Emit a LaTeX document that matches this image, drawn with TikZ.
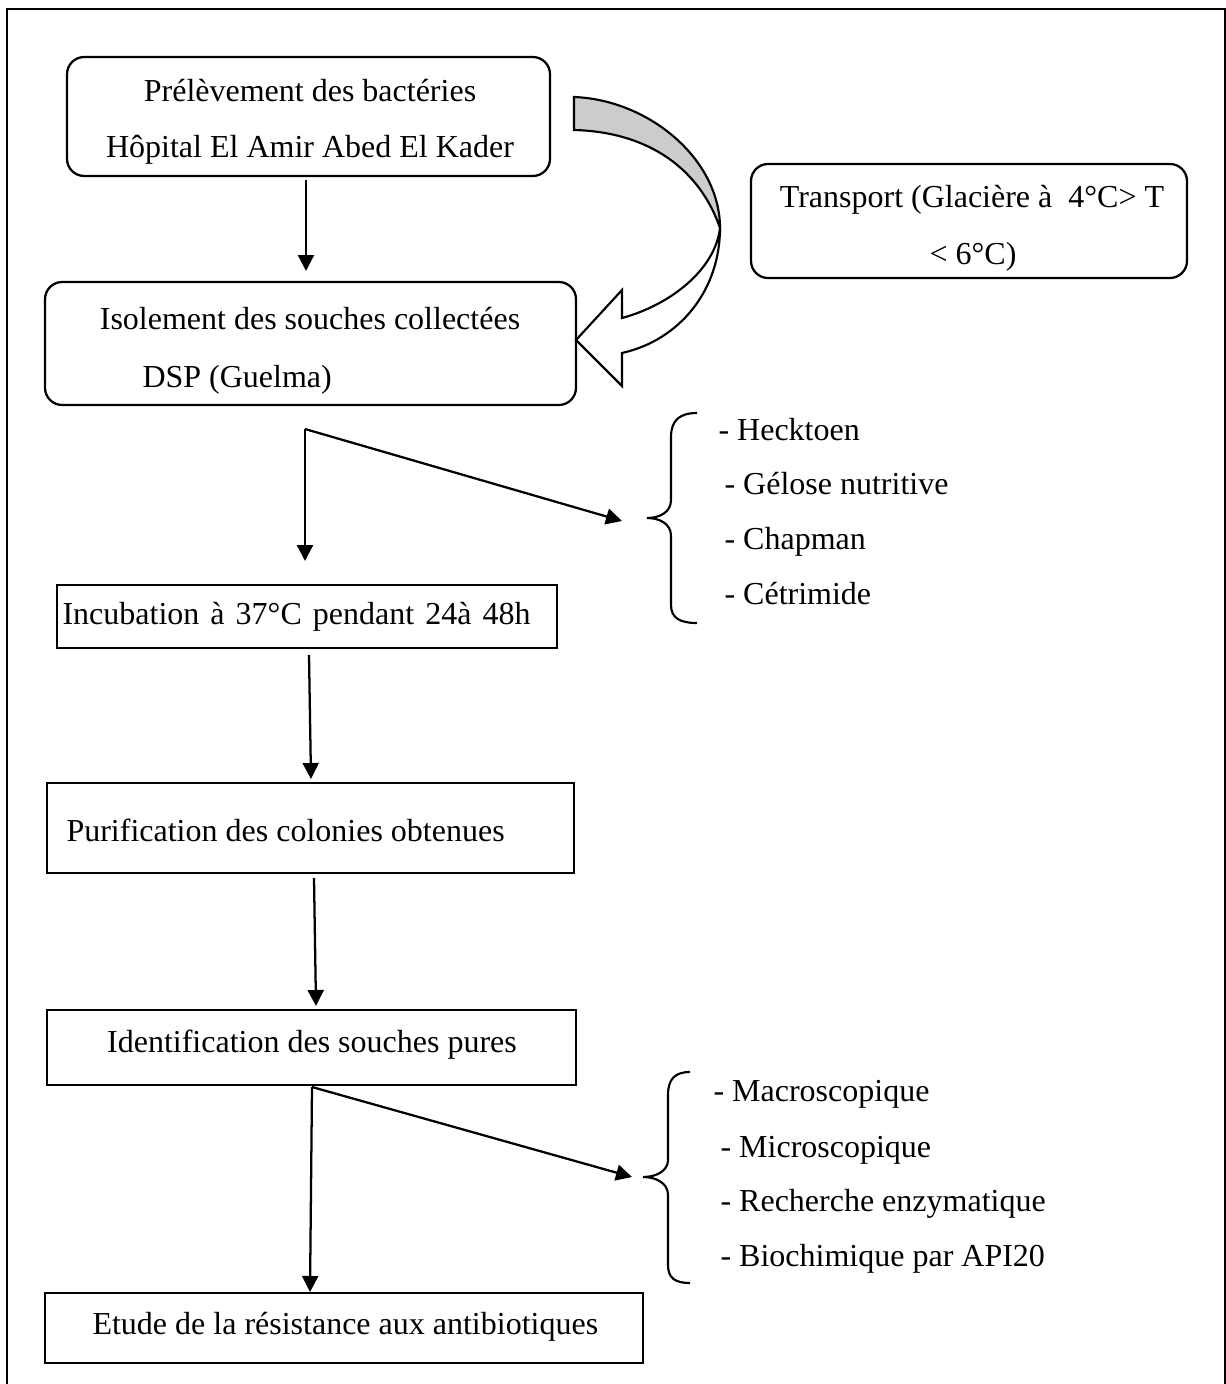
\documentclass[tikz,border=0pt]{standalone}
\usepackage{fontspec}
\setmainfont{Liberation Serif}
\usetikzlibrary{arrows.meta}
\begin{document}
\begin{tikzpicture}[x=0.375pt,y=-0.375pt,
  box/.style={draw, line width=0.85pt, inner sep=0pt, rectangle},
  rbox/.style={box, rounded corners=6.4pt},
  txt/.style={inner sep=0pt, font=\fontsize{12}{14}\selectfont},
  arr/.style={line width=0.85pt, -{Triangle[length=6pt,width=6pt]}},
  band/.style={line width=0.8pt, line join=miter},
  brace/.style={line width=0.8pt},
  frame/.style={line width=1.1pt}]
\useasboundingbox (0,0) rectangle (1226,1384);
\draw[frame] (7,9) rectangle (1225,1420);

% boxes
\node[rbox, minimum width=181.1pt, minimum height=44.6pt] (b1) at (308.5,116.5) {};
\node[rbox, minimum width=199.1pt, minimum height=46.1pt] (b2) at (310.5,343.5) {};
\node[rbox, minimum width=163.5pt, minimum height=42.75pt] (bt) at (969,221) {};
\node[box, minimum width=187.5pt, minimum height=23.6pt] (b3) at (307,616.5) {};
\node[box, minimum width=197.6pt, minimum height=33.75pt] (b4) at (310.5,828) {};
\node[box, minimum width=198.4pt, minimum height=28.1pt] (b5) at (311.5,1047.5) {};
\node[box, minimum width=224.25pt, minimum height=26.25pt] (b6) at (344,1328) {};

% texts
\node[txt, anchor=base] (t1a) at (310,102) {Prélèvement des bactéries};
\node[txt, anchor=base] (t1b) at (310,157) {Hôpital El Amir Abed El Kader};
\node[txt, anchor=base] (t2a) at (310,329) {Isolement des souches collectées};
\node[txt, anchor=base west] (t2b) at (142,387) {DSP (Guelma)};
\node[txt, anchor=base] (tta) at (972,207) {Transport (Glacière à\ \ 4°C> T};
\node[txt, anchor=base] (ttb) at (973,264) {< 6°C)};
\node[txt, anchor=base west] (t3) at (62,624) {\makebox[175.5pt][s]{Incubation à 37°C pendant 24à 48h}};
\node[txt, anchor=base west] (t4) at (66,841) {Purification des colonies obtenues};
\node[txt, anchor=base] (t5) at (312,1052) {Identification des souches pures};
\node[txt, anchor=base west] (t6) at (92,1334) {Etude de la résistance aux antibiotiques};

\node[txt, anchor=base west] (l1a) at (718,440) {- Hecktoen};
\node[txt, anchor=base west] (l1b) at (724,494) {- Gélose nutritive};
\node[txt, anchor=base west] (l1c) at (724,549) {- Chapman};
\node[txt, anchor=base west] (l1d) at (724,604) {- Cétrimide};

\node[txt, anchor=base west] (l2a) at (713,1101) {- Macroscopique};
\node[txt, anchor=base west] (l2b) at (720,1157) {- Microscopique};
\node[txt, anchor=base west] (l2c) at (720,1211) {- Recherche enzymatique};
\node[txt, anchor=base west] (l2d) at (720,1266) {- Biochimique par API20};

% connector coordinates
\coordinate (a1s) at (306,180);
\coordinate (a1e) at (306,271);
\coordinate (c1) at (305,429);
\coordinate (c1d) at (305,561);
\coordinate (c1r) at (622,521);
\coordinate (a3s) at (309,655);
\coordinate (a3e) at (311,779);
\coordinate (a4s) at (314,878);
\coordinate (a4e) at (316,1006);
\coordinate (c2) at (312,1087);
\coordinate (c2d) at (310,1292);
\coordinate (c2r) at (632,1177);

\draw[arr] (a1s) -- (a1e);
\draw[arr] (c1) -- (c1r);
\draw[arr] (c1) -- (c1d);
\draw[arr] (a3s) -- (a3e);
\draw[arr] (a4s) -- (a4e);
\draw[arr] (c2) -- (c2r);
\draw[arr] (c2) -- (c2d);

% curved arrow
\filldraw[band, fill=black!20] (574,97) .. controls (650,100) and (720,160) .. (720,228)
   .. controls (700,170) and (650,132) .. (574,130) -- cycle;
\filldraw[band, fill=white] (720,228) .. controls (720,290) and (680,340) .. (622,353)
   -- (622,386) -- (576,340) -- (622,290) -- (622,318)
   .. controls (670,305) and (715,270) .. (720,228) -- cycle;

% braces
\draw[brace] (697,413) .. controls (680,413) and (671,420) .. (671,437) -- (671,500)
   .. controls (671,512) and (660,518) .. (647,518)
   .. controls (660,518) and (671,524) .. (671,536) -- (671,605)
   .. controls (671,618) and (680,623) .. (697,623);
\draw[brace] (690,1072) .. controls (675,1072) and (668,1079) .. (668,1095) -- (668,1160)
   .. controls (668,1171) and (656,1177) .. (643,1177)
   .. controls (656,1177) and (668,1183) .. (668,1195) -- (668,1265)
   .. controls (668,1278) and (675,1283) .. (690,1283);
\end{tikzpicture}
\end{document}
